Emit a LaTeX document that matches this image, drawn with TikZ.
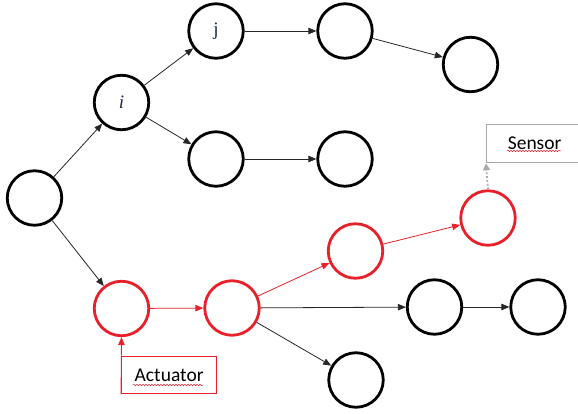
\documentclass[tikz,border=0pt]{standalone}
\usepackage{fontspec}
\setmainfont{Liberation Serif}
\newfontfamily\calib{Carlito}
\usetikzlibrary{arrows.meta,decorations.pathmorphing}
\definecolor{myred}{RGB}{232,32,42}
\definecolor{mygray}{RGB}{170,170,170}
\definecolor{lblue}{RGB}{30,40,70}
\tikzset{
  bnode/.style={circle, draw=black, line width=2.8pt, minimum size=54.5pt, inner sep=0pt, font=\fontsize{19}{19}\selectfont, text=lblue},
  rnode/.style={bnode, draw=myred},
  barrow/.style={draw=black!85, line width=0.8pt, -{Triangle[length=8pt,width=6.5pt]}},
  rarrow/.style={draw=myred, line width=0.8pt, -{Triangle[length=8pt,width=6.5pt]}},
  garrow/.style={draw=mygray, line width=1.8pt, dotted, -{Triangle[length=7pt,width=7pt]}},
  labbox/.style={draw, line width=1.3pt, inner sep=0pt, font=\calib\fontsize{19.5}{19.5}\selectfont, text=black},
  squig/.style={draw=myred, line width=0.5pt, decorate, decoration={snake, amplitude=0.7pt, segment length=3pt}}
}
\begin{document}
\begin{tikzpicture}[x=1pt,y=-1pt]
\useasboundingbox (0,0) rectangle (578,414);
\clip (0,0) rectangle (578,414);
\node[bnode] (root) at (34.5,198) {};
\node[bnode] (i) at (121.5,102.5) {\textit{i}};
\node[bnode] (j) at (216,31) {j};
\node[bnode] (k) at (345,31) {};
\node[bnode] (l) at (470.5,64.5) {};
\node[bnode] (m) at (216,159) {};
\node[bnode] (n) at (345,159) {};
\node[rnode] (r1) at (121.5,308.5) {};
\node[rnode] (r2) at (232,308) {};
\node[rnode] (r3) at (355.5,251) {};
\node[rnode] (r4) at (488,218) {};
\node[bnode] (p) at (434.5,307) {};
\node[bnode] (q) at (538,307) {};
\node[bnode] (s) at (356,380) {};
\node[labbox, draw=mygray, minimum width=96pt, minimum height=38pt, anchor=north west] (sen) at (486,124) {Sensor};
\node[labbox, draw=myred, minimum width=95pt, minimum height=37pt, anchor=north west] (act) at (121,356) {Actuator};
\draw[squig] (507,151) -- (561,151);
\draw[squig] (133,385) -- (203,385);
\draw[barrow] (root) -- (i);
\draw[barrow] (root) -- (r1);
\draw[barrow] (i) -- (j);
\draw[barrow] (i) -- (m);
\draw[barrow] (j) -- (k);
\draw[barrow] (k) -- (l);
\draw[barrow] (m) -- (n);
\draw[rarrow] (r1) -- (r2);
\draw[rarrow] (r2) -- (r3);
\draw[rarrow] (r3) -- (r4);
\draw[barrow] (r2) -- (p);
\draw[barrow] (p) -- (q);
\draw[barrow] (r2) -- (s);
\draw[rarrow] (act.south west) -- (r1.south);
\draw[garrow] (r4.north) -- (sen.south west);
\end{tikzpicture}
\end{document}
